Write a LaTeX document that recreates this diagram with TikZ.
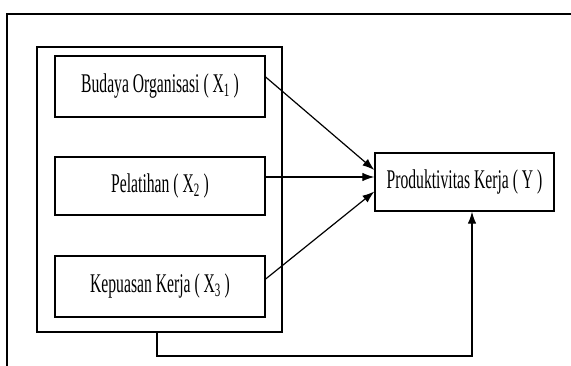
\documentclass[tikz,border=0pt]{standalone}
\usepackage{fontspec}
\setmainfont{Liberation Serif}
\usetikzlibrary{arrows.meta}
\newcommand{\sqz}[1]{\scalebox{0.58}[1]{#1}}
\begin{document}
\begin{tikzpicture}[x=1pt,y=-1pt,
  box/.style={draw, line width=1.3pt, inner sep=0pt, font=\fontsize{27}{32}\selectfont},
  arr/.style={line width=1.2pt, -{Latex[length=12pt,width=8.5pt]}}]
\useasboundingbox (0,0) rectangle (571,365);
\draw[line width=1.8pt] (7,366) -- (7,14) -- (572,14);
\node[box, minimum width=245pt, minimum height=285pt] (g) at (159.5,189.5) {};
\node[box, minimum width=210pt, minimum height=61pt] (x1) at (160,86.5) {\sqz{Budaya Organisasi ( X\textsubscript{1} )}};
\node[box, minimum width=210pt, minimum height=58pt] (x2) at (160,186) {\sqz{Pelatihan ( X\textsubscript{2} )}};
\node[box, minimum width=210pt, minimum height=61pt] (x3) at (160,286.5) {\sqz{Kepuasan Kerja ( X\textsubscript{3} )}};
\node[box, minimum width=179pt, minimum height=58pt] (y) at (464.5,182) {\sqz{Produktivitas Kerja ( Y )}};
\draw[arr] ([yshift=9.5pt]x1.east) -- ([yshift=12pt]y.west);
\draw[arr] ([yshift=9pt]x2.east) -- ([yshift=5pt]y.west);
\draw[arr] ([yshift=7.5pt]x3.east) -- ([yshift=-9.5pt]y.west);
\coordinate (b) at (157,356);
\draw[arr] (b |- g.south) -- (b) -| ([xshift=7.5pt]y.south);
\end{tikzpicture}
\end{document}
